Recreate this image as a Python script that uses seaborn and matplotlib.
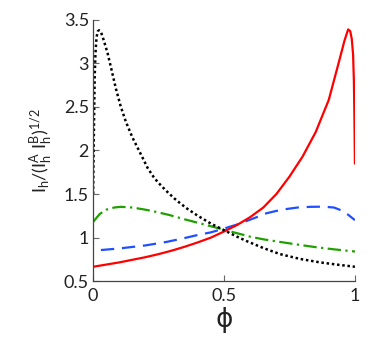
import matplotlib
matplotlib.use("Agg")
import matplotlib.pyplot as plt
import seaborn as sns
import pandas as pd

# ---- data ----
phi_black = [0.0, 0.002, 0.004, 0.006, 0.009, 0.013, 0.018, 0.023, 0.03, 0.04, 0.055, 0.07,
             0.087, 0.105, 0.125, 0.15, 0.17, 0.19, 0.208, 0.23, 0.246, 0.265, 0.285, 0.31,
             0.33, 0.36, 0.40, 0.45, 0.5, 0.55, 0.586, 0.65, 0.714, 0.79, 0.867, 0.93, 1.0]
val_black = [1.50, 2.0, 2.45, 2.85, 3.12, 3.30, 3.37, 3.38, 3.36, 3.27, 3.12, 2.93,
             2.71, 2.51, 2.33, 2.15, 2.03, 1.91, 1.80, 1.70, 1.64, 1.58, 1.52, 1.45,
             1.40, 1.33, 1.25, 1.16, 1.085, 1.01, 0.96, 0.88, 0.81, 0.755, 0.715, 0.69, 0.665]

phi_red = [0.0, 0.05, 0.1, 0.15, 0.2, 0.25, 0.3, 0.35, 0.4, 0.45, 0.5, 0.55, 0.6, 0.65,
           0.7, 0.75, 0.8, 0.85, 0.9, 0.94, 0.96, 0.974, 0.982, 0.988, 0.993, 0.996,
           0.998, 1.0]
val_red = [0.665, 0.69, 0.715, 0.745, 0.775, 0.81, 0.85, 0.895, 0.945, 1.0, 1.07, 1.145,
           1.235, 1.345, 1.50, 1.70, 1.93, 2.21, 2.58, 3.03, 3.26, 3.39, 3.37, 3.28,
           3.10, 2.80, 2.40, 1.85]

phi_blue = [0.0, 0.042, 0.1, 0.2, 0.28, 0.343, 0.4, 0.45, 0.496, 0.55, 0.586, 0.63, 0.663,
            0.72, 0.78, 0.83, 0.88, 0.92, 0.95, 0.975, 1.0]
val_blue = [0.85, 0.86, 0.875, 0.91, 0.95, 0.99, 1.03, 1.06, 1.10, 1.15, 1.19, 1.24, 1.28,
            1.32, 1.345, 1.353, 1.355, 1.345, 1.31, 1.26, 1.20]

phi_green = [0.0, 0.025, 0.05, 0.08, 0.106, 0.15, 0.2, 0.233, 0.29, 0.349, 0.4, 0.45, 0.5,
             0.55, 0.6, 0.65, 0.714, 0.78, 0.85, 0.92, 1.0]
val_green = [1.18, 1.27, 1.32, 1.345, 1.353, 1.345, 1.32, 1.30, 1.26, 1.21, 1.17, 1.13, 1.09,
             1.05, 1.01, 0.98, 0.95, 0.92, 0.89, 0.865, 0.84]

x_ticks = [0, 0.5, 1]
x_tick_labels = ["0", "0.5", "1"]
y_ticks = [0.5, 1, 1.5, 2, 2.5, 3, 3.5]
y_tick_labels = ["0.5", "1", "1.5", "2", "2.5", "3", "3.5"]

sns.set_style("ticks")
plt.rcParams["font.family"] = ["Lato", "DejaVu Sans"]
plt.rcParams["mathtext.fontset"] = "custom"
plt.rcParams["mathtext.rm"] = "Lato"
plt.rcParams["mathtext.it"] = "Lato"

fig = plt.figure(figsize=(3.74, 3.42), dpi=100)
ax = fig.add_axes([0.249, 0.178, 0.700, 0.764])

lw = 1.6
sns.lineplot(x=phi_blue, y=val_blue, ax=ax, color="#1f4fff", lw=lw,
             linestyle=(6, (6, 3.5)), estimator=None, sort=False)
sns.lineplot(x=phi_green, y=val_green, ax=ax, color="#20a000", lw=lw,
             linestyle=(0, (6, 2, 1, 2)), estimator=None, sort=False)
sns.lineplot(x=phi_red, y=val_red, ax=ax, color="#ff0000", lw=lw,
             linestyle="-", estimator=None, sort=False)
sns.lineplot(x=phi_black, y=val_black, ax=ax, color="black", lw=1.8,
             linestyle=(0, (1, 1.1)), estimator=None, sort=False)
for line in ax.get_lines():
    line.set_dash_capstyle("butt")

ax.set_xlim(0, 1)
ax.set_ylim(0.5, 3.5)
ax.set_xticks(x_ticks)
ax.set_xticklabels(x_tick_labels)
ax.set_yticks(y_ticks)
ax.set_yticklabels(y_tick_labels)
ax.tick_params(direction="in", length=4, width=0.8, color="#666666",
               labelsize=13, pad=3, labelcolor="#222222")
ax.tick_params(axis="x", pad=5)
for s in ["top", "right"]:
    ax.spines[s].set_visible(False)
for s in ["left", "bottom"]:
    ax.spines[s].set_color("#444444")
    ax.spines[s].set_linewidth(0.9)

ax.set_ylabel(r"$\mathregular{I_h/(I_h^A\ I_h^B)^{1/2}}$", fontsize=13, labelpad=6,
              color="#222222")
ax.set_xlabel("ϕ", fontsize=19, labelpad=2, color="#222222",
              family=["DejaVu Sans"])

fig.savefig("out.png", dpi=100)
